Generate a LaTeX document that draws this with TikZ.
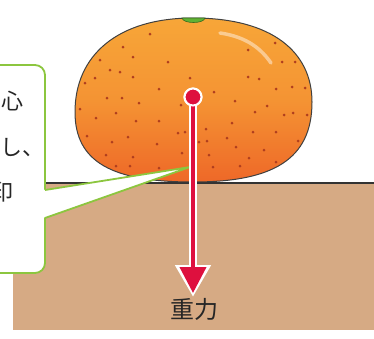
\documentclass[tikz,border=0pt]{standalone}
\usepackage{fontspec}
\usepackage{xcolor}
\usepackage{tikz}
\usetikzlibrary{arrows.meta}
\newfontfamily\jpfont{Noto Sans CJK JP}

\definecolor{soil}{RGB}{214,170,132}
\definecolor{peelTop}{RGB}{247,166,56}
\definecolor{peelBot}{RGB}{238,104,40}
\definecolor{peelDot}{RGB}{176,62,30}
\definecolor{leaf}{RGB}{96,178,52}
\definecolor{bubble}{RGB}{140,198,63}
\definecolor{gravity}{RGB}{222,16,62}

\tikzset{
  callout/.style={draw=bubble, fill=white, line width=1.8pt},
  pore/.style={fill=peelDot},
  txt/.style={font=\jpfont\fontsize{22}{22}\selectfont, text=black!85, inner sep=0pt}
}

\begin{document}
\begin{tikzpicture}[x=1pt,y=-1pt]
          \useasboundingbox (0,0) rectangle (374,338);

          % ground
          \fill[soil] (13,183) rectangle (374,330);
          \draw[black!80, line width=1.2pt] (40,183) -- (374,183);

          % the orange
          \draw[black!75, line width=1pt, top color=peelTop, bottom color=peelBot,
                middle color=peelTop!70!peelBot]
            (193,18) .. controls (272,18) and (312,52) .. (312,102)
            .. controls (312,160) and (272,182) .. (193,182)
            .. controls (112,182) and (75,162) .. (75,112)
            .. controls (75,55) and (118,18) .. (193,18) -- cycle;
          \foreach \px/\py in {150/34,123/47,133/57,100/60,168/62,110/70,120/72,95/78,
              133/77,85/83,190/78,159/89,214/92,107/98,122/98,139/103,181/105,80/109,
              96/118,116/113,159/121,136/121,178/133,185/132,206/129,232/123,235/101,
              248/77,259/79,248/50,275/43,282/62,295/62,276/89,292/87,305/88,267/106,
              284/115,293/113,307/115,255/112,253/132,276/132,227/138,236/147,207/141,
              199/142,87/136,112/142,128/137,157/144,106/155,133/157,182/153,209/155,
              264/150,298/141,276/162,249/158,240/166,213/167,116/166,130/166,159/168}
            \fill[pore] (\px,\py) circle (1.5);
          \draw[white, opacity=0.45, line width=3.5pt, line cap=round]
            (220,33) .. controls (248,37) and (262,50) .. (271,63);
          \draw[leaf!60!black, fill=leaf, line width=0.6pt]
            (182,18) .. controls (183,24) and (204,24) .. (205,18) -- cycle;

          % speech bubble
          \coordinate (point) at (190,167);
          \draw[callout, rounded corners=10pt] (-20,65) rectangle (45,273);
          \fill[white] (43,190) -- (point) -- (43,218) -- cycle;
          \draw[bubble, line width=1.8pt, line join=round] (45,190) -- (point) -- (45,218);
          \node[txt, anchor=east] (l1) at (24,101) {心};
          \node[txt, anchor=east] (l2) at (45,148) {し、};
          \node[txt, anchor=east] (l3) at (14,192) {印};

          % gravity arrow
          \node[circle, fill=gravity, draw=white, line width=2pt, minimum size=17pt,
                inner sep=0pt] (cg) at (193,97) {};
          \coordinate (tipw) at (193,297);
          \coordinate (tip) at (193,293);
          \draw[white, line width=8pt, -{Triangle[length=32pt,width=34pt]}] (cg.center) -- (tipw);
          \draw[gravity, line width=4pt, -{Triangle[length=26pt,width=26pt]}] (cg.center) -- (tip);
          \node[circle, fill=gravity, draw=white, line width=2pt, minimum size=17pt,
                inner sep=0pt] at (cg) {};
          \node[txt, font=\jpfont\fontsize{24}{24}\selectfont] (g) at (194,309) {重力};
\end{tikzpicture}
\end{document}
